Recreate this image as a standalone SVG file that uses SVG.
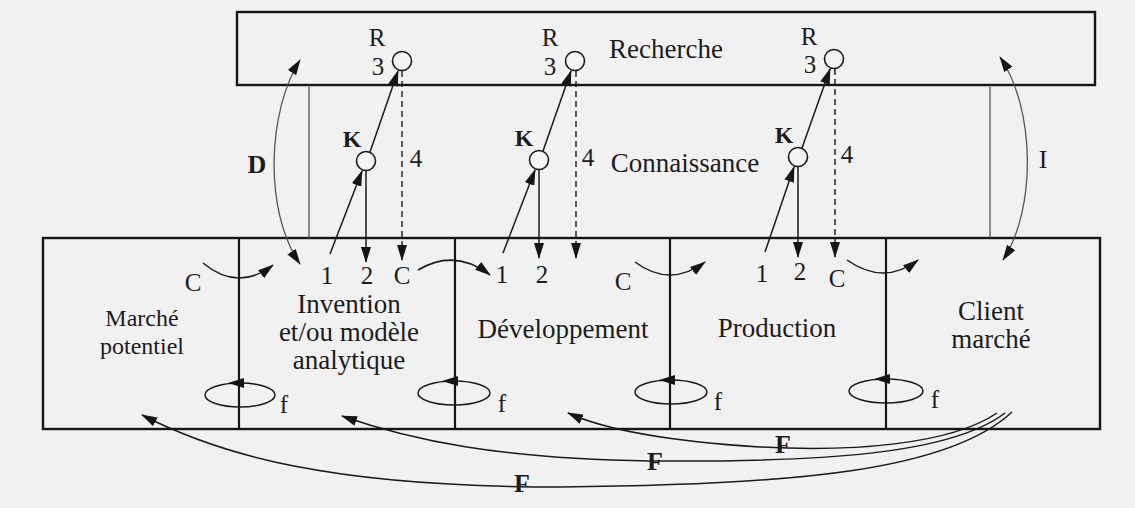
<svg xmlns="http://www.w3.org/2000/svg" width="1135" height="508" viewBox="0 0 1135 508">
<defs>
<marker id="ah" viewBox="0 0 16 10" refX="15" refY="5" markerWidth="16" markerHeight="10" markerUnits="userSpaceOnUse" orient="auto-start-reverse">
<path d="M0,0 L16,5 L0,10 Z" fill="#151515"/>
</marker>
<style>
.box{fill:none;stroke:#151515;stroke-width:2.4}
.div{stroke:#151515;stroke-width:2.2}
.ln{fill:none;stroke:#1a1a1a;stroke-width:1.5}
.thin{fill:none;stroke:#555;stroke-width:1.3}
.dash{fill:none;stroke:#1a1a1a;stroke-width:1.4;stroke-dasharray:6,4}
.cir{fill:#f4f4f4;stroke:#1a1a1a;stroke-width:1.6}
.t{font-family:"Liberation Serif","Times New Roman",serif;fill:#1c1c1c}
.big{font-size:27px;text-anchor:middle}
.sm{font-size:25px;text-anchor:middle}
.b{font-weight:bold}
</style>
</defs>
<rect width="1135" height="508" fill="#f1f1f1"/>

<g id="recherche">
<rect class="box" x="237" y="12" width="858" height="73"/>
<text class="t big" x="666" y="58">Recherche</text>
</g>
<g id="connaissance">
<text class="t big" x="685" y="172">Connaissance</text>
</g>

<g id="chain">
<rect class="box" x="43" y="238" width="1057" height="191"/>
</g>
<g id="marche-potentiel">
<text class="t" x="142" y="326" font-size="24" text-anchor="middle" fill="#333">Marché</text>
<text class="t" x="142" y="354" font-size="24" text-anchor="middle" fill="#333">potentiel</text>
<text class="t sm" x="193" y="291">C</text>
</g>
<g id="invention">
<text class="t big" x="349" y="313">Invention</text>
<text class="t big" x="349" y="341">et/ou modèle</text>
<text class="t big" x="349" y="369">analytique</text>
<text class="t sm" x="327" y="284">1</text>
<text class="t sm" x="367" y="284">2</text>
<text class="t sm" x="402" y="284">C</text>
</g>
<g id="developpement">
<text class="t big" x="563" y="338">Développement</text>
<text class="t sm" x="502" y="283">1</text>
<text class="t sm" x="542" y="283">2</text>
<text class="t sm" x="623" y="290">C</text>
</g>
<g id="production">
<text class="t big" x="777" y="337">Production</text>
<text class="t sm" x="762" y="282">1</text>
<text class="t sm" x="800" y="280">2</text>
<text class="t sm" x="837" y="287">C</text>
</g>
<g id="client-marche">
<text class="t big" x="991" y="320">Client</text>
<text class="t big" x="991" y="348">marché</text>
</g>

<g id="nodes-rk">
<circle class="cir" cx="402" cy="61" r="9.5"/>
<circle class="cir" cx="366" cy="161" r="9.5"/>
<circle class="cir" cx="575" cy="61" r="9.5"/>
<circle class="cir" cx="539" cy="160" r="9.5"/>
<circle class="cir" cx="834" cy="59" r="9.5"/>
<circle class="cir" cx="798" cy="157" r="9.5"/>
<text class="t" x="377" y="46" font-size="25" text-anchor="middle">R</text>
<text class="t sm" x="378" y="75">3</text>
<text class="t b" x="352" y="147" font-size="24" text-anchor="middle">K</text>
<text class="t sm" x="416" y="167">4</text>
<text class="t" x="550" y="46" font-size="25" text-anchor="middle">R</text>
<text class="t sm" x="550" y="75">3</text>
<text class="t b" x="524" y="146" font-size="24" text-anchor="middle">K</text>
<text class="t sm" x="588" y="166">4</text>
<text class="t" x="809" y="45" font-size="25" text-anchor="middle">R</text>
<text class="t sm" x="810" y="73">3</text>
<text class="t b" x="784" y="143" font-size="24" text-anchor="middle">K</text>
<text class="t sm" x="847" y="163">4</text>
</g>

<g id="labels-loops">
<text class="t b" x="257" y="173" font-size="26" text-anchor="middle">D</text>
<text class="t" x="1043" y="168" font-size="26" text-anchor="middle">I</text>
<text class="t sm" x="284" y="413">f</text>
<text class="t sm" x="502" y="412">f</text>
<text class="t sm" x="718" y="410">f</text>
<text class="t sm" x="935" y="408">f</text>
<text class="t b" x="783" y="453" font-size="26" text-anchor="middle">F</text>
<text class="t b" x="655" y="470" font-size="26" text-anchor="middle">F</text>
<text class="t b" x="522" y="492" font-size="26" text-anchor="middle">F</text>
</g>

<g id="connectors">
<line class="thin" x1="309" y1="85" x2="309" y2="238"/>
<line class="thin" x1="990" y1="85" x2="990" y2="238"/>
<path class="thin" d="M300,60 C268,110 263,210 300,264" marker-start="url(#ah)" marker-end="url(#ah)"/>
<path class="thin" d="M1000,57 C1036,110 1036,210 1003,260" marker-start="url(#ah)" marker-end="url(#ah)"/>
<path class="ln" d="M203,263 Q238,292 273,265" marker-end="url(#ah)"/>
<path class="ln" d="M418,270 Q455,248 490,275" marker-end="url(#ah)"/>
<path class="ln" d="M635,262 Q670,288 705,262" marker-end="url(#ah)"/>
<path class="ln" d="M847,260 Q884,286 918,260" marker-end="url(#ah)"/>
<line class="ln" x1="330" y1="254" x2="362" y2="171" marker-end="url(#ah)"/>
<line class="ln" x1="370" y1="152" x2="398" y2="71" marker-end="url(#ah)"/>
<line class="ln" x1="366" y1="171" x2="366" y2="262" marker-end="url(#ah)"/>
<line class="dash" x1="402" y1="71" x2="402" y2="244"/>
<line class="ln" x1="402" y1="244" x2="402" y2="260" marker-end="url(#ah)"/>
<line class="ln" x1="503" y1="253" x2="535" y2="170" marker-end="url(#ah)"/>
<line class="ln" x1="543" y1="151" x2="571" y2="71" marker-end="url(#ah)"/>
<line class="ln" x1="539" y1="170" x2="539" y2="258" marker-end="url(#ah)"/>
<line class="dash" x1="576" y1="71" x2="576" y2="242"/>
<line class="ln" x1="576" y1="242" x2="576" y2="258" marker-end="url(#ah)"/>
<line class="ln" x1="765" y1="252" x2="794" y2="167" marker-end="url(#ah)"/>
<line class="ln" x1="802" y1="148" x2="830" y2="69" marker-end="url(#ah)"/>
<line class="ln" x1="798" y1="167" x2="798" y2="257" marker-end="url(#ah)"/>
<line class="dash" x1="835" y1="69" x2="835" y2="241"/>
<line class="ln" x1="835" y1="241" x2="835" y2="257" marker-end="url(#ah)"/>
<ellipse class="ln" cx="240" cy="395" rx="35" ry="12"/>
<ellipse class="ln" cx="454" cy="393" rx="36" ry="12"/>
<ellipse class="ln" cx="671" cy="392" rx="36" ry="12"/>
<ellipse class="ln" cx="886" cy="391" rx="37" ry="12"/>
<path d="M228,383 L244,378 L244,388 Z" fill="#151515"/>
<path d="M442,381 L458,376 L458,386 Z" fill="#151515"/>
<path d="M659,380 L675,375 L675,385 Z" fill="#151515"/>
<path d="M874,379 L890,374 L890,384 Z" fill="#151515"/>
<path class="ln" d="M997,413 C950,445 850,452 760,447 C680,442 610,432 568,413" marker-end="url(#ah)"/>
<path class="ln" d="M1005,413 C950,455 820,462 650,461 C500,459 410,440 342,416" marker-end="url(#ah)"/>
<path class="ln" d="M1012,412 C950,470 800,485 560,487 C330,487 220,455 142,415" marker-end="url(#ah)"/>
</g>

<g id="dividers">
<line class="div" x1="239" y1="238" x2="239" y2="429"/>
<line class="div" x1="455" y1="238" x2="455" y2="429"/>
<line class="div" x1="670" y1="238" x2="670" y2="429"/>
<line class="div" x1="886" y1="238" x2="886" y2="429"/>
</g>
</svg>
